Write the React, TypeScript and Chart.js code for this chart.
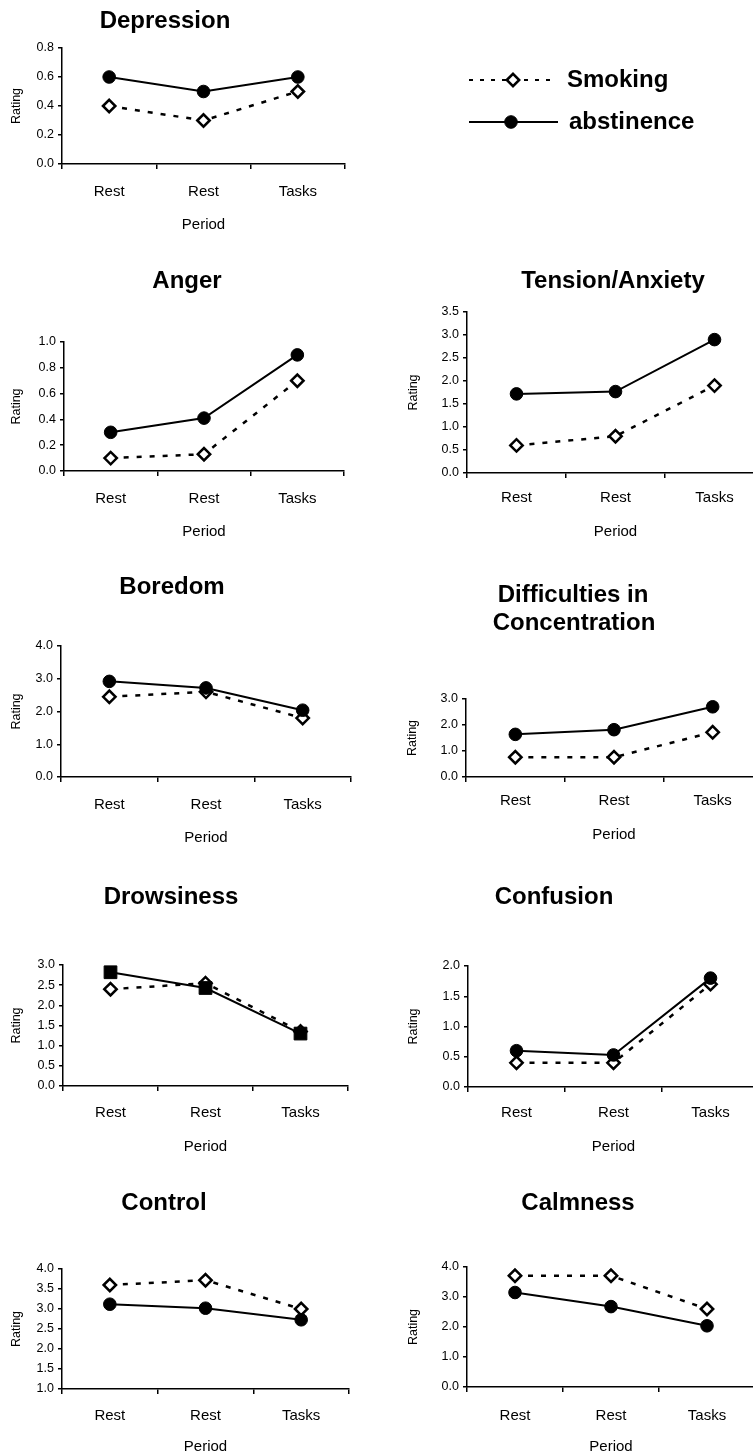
import React, { useEffect, useRef } from "react";
import { Chart, registerables } from "chart.js";

Chart.register(...registerables);

const FONT = "'Liberation Sans', Arial, Helvetica, sans-serif";

// ---------------- data ----------------
const categories = ["Rest", "Rest", "Tasks"];
const seriesNames = ["Smoking", "abstinence"];
const xAxisTitle = "Period";
const yAxisTitle = "Rating";

const depressionSmoking = [0.4, 0.3, 0.5];
const depressionAbstinence = [0.6, 0.5, 0.6];

const angerSmoking = [0.1, 0.13, 0.7];
const angerAbstinence = [0.3, 0.41, 0.9];

const tensionSmoking = [0.6, 0.8, 1.9];
const tensionAbstinence = [1.72, 1.77, 2.9];

const boredomSmoking = [2.45, 2.6, 1.8];
const boredomAbstinence = [2.92, 2.72, 2.04];

const concentrationSmoking = [0.76, 0.76, 1.72];
const concentrationAbstinence = [1.64, 1.82, 2.7];

const drowsinessSmoking = [2.4, 2.55, 1.35];
const drowsinessAbstinence = [2.82, 2.43, 1.3];

const confusionSmoking = [0.4, 0.4, 1.7];
const confusionAbstinence = [0.6, 0.53, 1.8];

const controlSmoking = [3.6, 3.72, 3.0];
const controlAbstinence = [3.12, 3.02, 2.73];

const calmnessSmoking = [3.71, 3.71, 2.6];
const calmnessAbstinence = [3.15, 2.68, 2.04];

// y-axis ranges: [min, max, step]
const depressionAxis = [0, 0.8, 0.2];
const angerAxis = [0, 1.0, 0.2];
const tensionAxis = [0, 3.5, 0.5];
const boredomAxis = [0, 4, 1];
const concentrationAxis = [0, 3, 1];
const drowsinessAxis = [0, 3, 0.5];
const confusionAxis = [0, 2, 0.5];
const controlAxis = [1, 4, 0.5];
const calmnessAxis = [0, 4, 1];

// ---------------- layout (page coordinates) ----------------
type Panel = {
  key: string;
  titles: { text: string; x: number; y: number }[];
  smoking: number[];
  abstinence: number[];
  axis: number[];
  absMarker: string;
  canvas: { x: number; y: number; w: number; h: number };
  plot: { l: number; t: number; r: number; b: number };
  labelY: number;
  periodY: number;
  ratingX: number;
  legend?: boolean;
};

const panels: Panel[] = [
  {
    key: "depression",
    titles: [{ text: "Depression", x: 165, y: 21 }],
    smoking: depressionSmoking,
    abstinence: depressionAbstinence,
    axis: depressionAxis,
    absMarker: "circle",
    canvas: { x: 0, y: 0, w: 753, h: 240 },
    plot: { l: 62, t: 48, r: 345, b: 164 },
    labelY: 192,
    periodY: 225,
    ratingX: 17,
    legend: true,
  },
  {
    key: "anger",
    titles: [{ text: "Anger", x: 187, y: 281 }],
    smoking: angerSmoking,
    abstinence: angerAbstinence,
    axis: angerAxis,
    absMarker: "circle",
    canvas: { x: 0, y: 250, w: 376, h: 300 },
    plot: { l: 64, t: 342, r: 344, b: 471 },
    labelY: 499,
    periodY: 532,
    ratingX: 17,
  },
  {
    key: "tension",
    titles: [{ text: "Tension/Anxiety", x: 613, y: 281 }],
    smoking: tensionSmoking,
    abstinence: tensionAbstinence,
    axis: tensionAxis,
    absMarker: "circle",
    canvas: { x: 376, y: 250, w: 404, h: 300 },
    plot: { l: 467, t: 312, r: 764, b: 473 },
    labelY: 498,
    periodY: 532,
    ratingX: 414,
  },
  {
    key: "boredom",
    titles: [{ text: "Boredom", x: 172, y: 587 }],
    smoking: boredomSmoking,
    abstinence: boredomAbstinence,
    axis: boredomAxis,
    absMarker: "circle",
    canvas: { x: 0, y: 560, w: 376, h: 300 },
    plot: { l: 61, t: 646, r: 351, b: 777 },
    labelY: 805,
    periodY: 838,
    ratingX: 17,
  },
  {
    key: "concentration",
    titles: [
      { text: "Difficulties in", x: 573, y: 595 },
      { text: "Concentration", x: 574, y: 623 },
    ],
    smoking: concentrationSmoking,
    abstinence: concentrationAbstinence,
    axis: concentrationAxis,
    absMarker: "circle",
    canvas: { x: 376, y: 560, w: 404, h: 300 },
    plot: { l: 466, t: 699, r: 762, b: 777 },
    labelY: 801,
    periodY: 835,
    ratingX: 413,
  },
  {
    key: "drowsiness",
    titles: [{ text: "Drowsiness", x: 171, y: 897 }],
    smoking: drowsinessSmoking,
    abstinence: drowsinessAbstinence,
    axis: drowsinessAxis,
    absMarker: "rect",
    canvas: { x: 0, y: 870, w: 376, h: 300 },
    plot: { l: 63, t: 965, r: 348, b: 1086 },
    labelY: 1113,
    periodY: 1147,
    ratingX: 17,
  },
  {
    key: "confusion",
    titles: [{ text: "Confusion", x: 554, y: 897 }],
    smoking: confusionSmoking,
    abstinence: confusionAbstinence,
    axis: confusionAxis,
    absMarker: "circle",
    canvas: { x: 376, y: 870, w: 404, h: 300 },
    plot: { l: 468, t: 966, r: 759, b: 1087 },
    labelY: 1113,
    periodY: 1147,
    ratingX: 414,
  },
  {
    key: "control",
    titles: [{ text: "Control", x: 164, y: 1203 }],
    smoking: controlSmoking,
    abstinence: controlAbstinence,
    axis: controlAxis,
    absMarker: "circle",
    canvas: { x: 0, y: 1170, w: 376, h: 286 },
    plot: { l: 62, t: 1269, r: 349, b: 1389 },
    labelY: 1416,
    periodY: 1447,
    ratingX: 17,
  },
  {
    key: "calmness",
    titles: [{ text: "Calmness", x: 578, y: 1203 }],
    smoking: calmnessSmoking,
    abstinence: calmnessAbstinence,
    axis: calmnessAxis,
    absMarker: "circle",
    canvas: { x: 376, y: 1170, w: 404, h: 286 },
    plot: { l: 467, t: 1267, r: 755, b: 1387 },
    labelY: 1416,
    periodY: 1447,
    ratingX: 414,
  },
];

// legend rows (page coordinates)
const legendRows = [
  { y: 80, x1: 469, x2: 553, mx: 513, tx: 567, dash: [4, 7] },
  { y: 122, x1: 469, x2: 558, mx: 511, tx: 569, dash: [] as number[] },
];

function drawMarker(
  ctx: CanvasRenderingContext2D,
  style: string,
  x: number,
  y: number,
  r: number,
  fill: string,
  stroke: string,
  lw: number
) {
  ctx.save();
  ctx.beginPath();
  if (style === "rectRot") {
    ctx.moveTo(x - r, y);
    ctx.lineTo(x, y - r);
    ctx.lineTo(x + r, y);
    ctx.lineTo(x, y + r);
    ctx.closePath();
  } else if (style === "rect") {
    const s = Math.SQRT1_2 * r;
    ctx.rect(x - s, y - s, 2 * s, 2 * s);
  } else {
    ctx.arc(x, y, r, 0, Math.PI * 2);
  }
  ctx.fillStyle = fill;
  ctx.fill();
  if (lw > 0) {
    ctx.lineWidth = lw;
    ctx.strokeStyle = stroke;
    ctx.setLineDash([]);
    ctx.stroke();
  }
  ctx.restore();
}

const TICK_X = 5;
const TICK_Y = 4;
const LABEL_FONT = 15;
const PERIOD_FONT = 15;
const RATING_FONT = 12.5;
const YTICK_FONT = 12.5;

function PanelChart({ p }: { p: Panel }) {
  const ref = useRef<HTMLCanvasElement | null>(null);

  useEffect(() => {
    if (!ref.current) return;
    const cx = p.canvas.x;
    const cy = p.canvas.y;
    const plotL = p.plot.l - cx;
    const plotR = p.plot.r - cx;
    const plotT = p.plot.t - cy;
    const plotB = p.plot.b - cy;
    const xAxisH = p.canvas.h - plotB;
    const labelPad = p.labelY - p.plot.b - TICK_X - (LABEL_FONT * 1.2) / 2;
    const periodPad = Math.max(0, p.canvas.y + p.canvas.h - p.periodY - (PERIOD_FONT * 1.2) / 2);
    const ratingPad = p.ratingX - cx - (RATING_FONT * 1.2) / 2;

    const titlePlugin = {
      id: "panelTitle_" + p.key,
      afterDraw(chart: any) {
        const ctx = chart.ctx as CanvasRenderingContext2D;
        ctx.save();
        ctx.font = `bold 24px ${FONT}`;
        ctx.fillStyle = "#000";
        ctx.textAlign = "center";
        ctx.textBaseline = "middle";
        p.titles.forEach((t) => ctx.fillText(t.text, t.x - cx, t.y - cy));
        ctx.restore();
      },
    };

    const legendPlugin = {
      id: "panelLegend_" + p.key,
      afterDraw(chart: any) {
        if (!p.legend) return;
        const ctx = chart.ctx as CanvasRenderingContext2D;
        chart.data.datasets.forEach((ds: any, i: number) => {
          const r = legendRows[i];
          if (!r) return;
          const y = r.y - cy;
          ctx.save();
          ctx.strokeStyle = ds.borderColor;
          ctx.lineWidth = 2;
          ctx.setLineDash(r.dash);
          ctx.beginPath();
          ctx.moveTo(r.x1 - cx, y);
          ctx.lineTo(r.x2 - cx, y);
          ctx.stroke();
          ctx.restore();
          drawMarker(
            ctx,
            ds.pointStyle,
            r.mx - cx,
            y,
            ds.pointRadius,
            ds.pointBackgroundColor,
            ds.pointBorderColor,
            ds.pointBorderWidth
          );
          ctx.save();
          ctx.font = `bold 24px ${FONT}`;
          ctx.fillStyle = "#000";
          ctx.textAlign = "left";
          ctx.textBaseline = "middle";
          ctx.fillText(ds.label, r.tx - cx, y);
          ctx.restore();
        });
      },
    };

    const absRadius = p.absMarker === "rect" ? 9 : 6.3;

    const chart = new Chart(ref.current, {
      type: "line",
      data: {
        labels: categories,
        datasets: [
          {
            label: seriesNames[0],
            data: p.smoking,
            borderColor: "#000",
            borderWidth: 2.5,
            borderDash: [5, 8],
            tension: 0,
            pointStyle: "rectRot",
            pointRadius: 6.2,
            pointBackgroundColor: "#fff",
            pointBorderColor: "#000",
            pointBorderWidth: 2.5,
            order: 1,
          },
          {
            label: seriesNames[1],
            data: p.abstinence,
            borderColor: "#000",
            borderWidth: 2,
            tension: 0,
            pointStyle: p.absMarker,
            pointRadius: absRadius,
            pointBackgroundColor: "#000",
            pointBorderColor: "#000",
            pointBorderWidth: 1,
            order: 0,
          },
        ],
      },
      options: {
        animation: false,
        responsive: false,
        devicePixelRatio: 1,
        events: [],
        layout: {
          padding: { left: 0, top: plotT, right: p.canvas.w - plotR, bottom: 0 },
        },
        plugins: {
          legend: { display: false },
          tooltip: { enabled: false },
          title: { display: false },
        },
        scales: {
          x: {
            type: "category",
            offset: true,
            grid: {
              display: true,
              offset: true,
              drawOnChartArea: false,
              drawTicks: true,
              tickLength: TICK_X,
              color: "#000",
              lineWidth: 1.5,
            },
            border: { display: true, color: "#000", width: 1.5 },
            ticks: {
              color: "#000",
              font: { size: LABEL_FONT, family: FONT },
              padding: labelPad,
              maxRotation: 0,
              autoSkip: false,
            },
            title: {
              display: true,
              text: xAxisTitle,
              color: "#000",
              font: { size: PERIOD_FONT, family: FONT },
              padding: { top: 0, bottom: periodPad },
            },
            afterFit: (s: any) => {
              s.height = xAxisH;
            },
          },
          y: {
            min: p.axis[0],
            max: p.axis[1],
            grid: {
              display: true,
              drawOnChartArea: false,
              drawTicks: true,
              tickLength: TICK_Y,
              color: "#000",
              lineWidth: 1.5,
            },
            border: { display: true, color: "#000", width: 1.5 },
            ticks: {
              stepSize: p.axis[2],
              color: "#000",
              font: { size: YTICK_FONT, family: FONT },
              padding: 4,
              callback: (v: any) => Number(v).toFixed(1),
            },
            title: {
              display: true,
              text: yAxisTitle,
              color: "#000",
              font: { size: RATING_FONT, family: FONT },
              padding: { top: ratingPad, bottom: 0 },
            },
            afterFit: (s: any) => {
              s.width = plotL;
            },
          },
        },
      } as any,
      plugins: [titlePlugin, legendPlugin],
    });
    return () => chart.destroy();
  }, [p]);

  return (
    <canvas
      ref={ref}
      width={p.canvas.w}
      height={p.canvas.h}
      style={{
        position: "absolute",
        left: p.canvas.x,
        top: p.canvas.y,
        width: p.canvas.w,
        height: p.canvas.h,
      }}
    />
  );
}

export default function App() {
  return (
    <div
      style={{
        position: "absolute",
        left: 0,
        top: 0,
        width: 753,
        height: 1456,
        overflow: "hidden",
        background: "#fff",
      }}
    >
      {panels.map((p) => (
        <PanelChart key={p.key} p={p} />
      ))}
    </div>
  );
}
